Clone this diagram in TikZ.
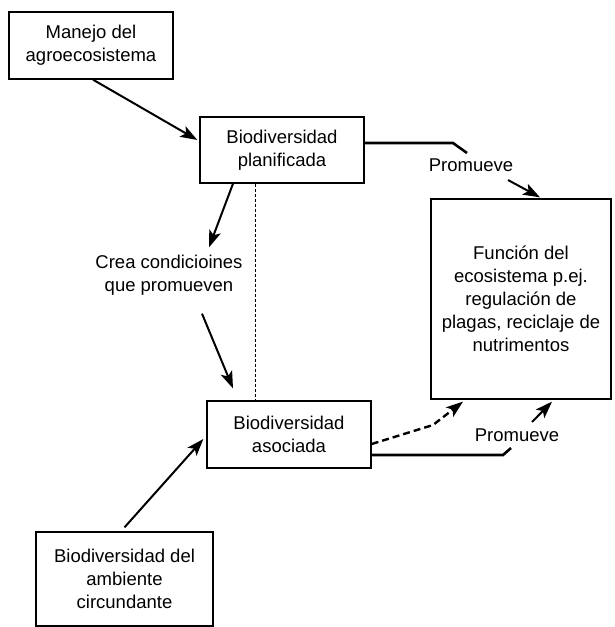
\documentclass[tikz,border=0pt]{standalone}
\usepackage{fontspec}
\setmainfont{Liberation Sans}
\usetikzlibrary{arrows.meta}

\begin{document}
\begin{tikzpicture}[x=1pt,y=-1pt,
  caja/.style={draw,line width=1.3pt,align=center,inner sep=0pt,
    font=\fontsize{18.5}{23}\selectfont},
  etiqueta/.style={align=center,font=\fontsize{18.5}{23}\selectfont},
  flecha/.style={-{Stealth[length=17pt,width=12pt,inset=4pt]},line width=2pt},
  enlace/.style={line width=2.6pt}]
  \useasboundingbox (0,0) rectangle (615,627);

  \node [caja,minimum width=164pt,minimum height=67pt] (manejo) at (91,45.5) {Manejo del\\agroecosistema};
  \node [caja,minimum width=164pt,minimum height=66pt] (plan) at (282,150) {Biodiversidad\\planificada};
  \node [caja,minimum width=180pt,minimum height=200pt] (funcion) at (521,299) {Función del\\ecosistema p.ej.\\regulación de\\plagas, reciclaje de\\nutrimentos};
  \node [caja,minimum width=164pt,minimum height=67pt] (asoc) at (289,434.5) {Biodiversidad\\asociada};
  \node [caja,minimum width=177pt,minimum height=94pt] (ambiente) at (124.5,579) {Biodiversidad del\\ambiente\\circundante};

  \node [etiqueta] (crea) at (169,275) {Crea condicioines\\que promueven};
  \node [etiqueta] (prom1) at (471,165) {Promueve};
  \node [etiqueta] (prom2) at (517,435) {Promueve};

  \coordinate (q1) at (453,143);
  \coordinate (q2) at (467,153);
  \coordinate (r1) at (503,455);
  \coordinate (r2) at (511,448);
  \coordinate (d1) at (433,425);

  \draw [flecha] ([xshift=2pt]manejo.south) -- ([xshift=-2pt,yshift=10pt]plan.west);
  \draw [flecha] ([xshift=-49pt]plan.south) -- ([xshift=40pt,yshift=4pt]crea.north);
  \draw [flecha] ([xshift=33pt,yshift=-15pt]crea.south) -- ([xshift=-56pt,yshift=12pt]asoc.north);
  \draw [line width=0.9pt,dash pattern=on 3pt off 2pt] ([xshift=-27pt]plan.south) -- ([xshift=-34pt]asoc.north);
  \draw [flecha] ([yshift=4pt]ambiente.north) -- ([xshift=-3pt,yshift=-4.5pt]asoc.west);

  \draw [enlace] ([yshift=7pt]plan.east) -- (q1) -- (q2);
  \draw [flecha] ([xshift=37pt,yshift=-15pt]prom1.center) -- ([xshift=19pt,yshift=1pt]funcion.north);

  \draw [flecha,line width=2.4pt,dash pattern=on 7pt off 4pt] ([yshift=-9.5pt]asoc.east) -- (d1) -- ([xshift=-58pt,yshift=-2pt]funcion.south);
  \draw [enlace] ([yshift=-20.5pt]asoc.east) -- (r1) -- (r2);
  \draw [flecha] ([xshift=15pt,yshift=13pt]prom2.center) -- ([xshift=31pt,yshift=-2pt]funcion.south);
\end{tikzpicture}
\end{document}
